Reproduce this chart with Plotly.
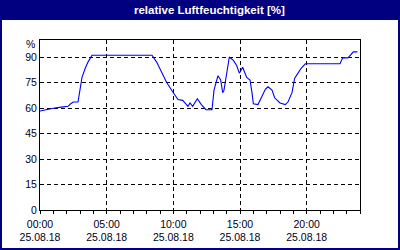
import plotly.graph_objects as go

times = ["00:00", "00:30", "01:06", "01:36", "02:06", "02:18", "02:30", "02:51", "03:00", "03:09",
         "03:24", "03:36", "03:54", "08:24", "08:45", "09:06", "09:30", "10:00", "10:21", "10:42",
         "11:06", "11:15", "11:27", "11:48", "12:06", "12:27", "12:54", "13:03", "13:12", "13:21",
         "13:33", "13:42", "13:48", "14:00", "14:12", "14:30", "14:45", "14:57", "15:12", "15:30",
         "15:45", "15:54", "16:00", "16:21", "16:36", "16:54", "17:06", "17:24", "17:36", "17:45",
         "18:00", "18:24", "18:36", "18:54", "19:06", "19:21", "19:36", "19:54", "22:30", "22:42",
         "23:06", "23:30", "23:48"]
humidity = [58.2, 59.2, 60, 60.5, 61, 62.5, 63.5, 63.5, 70, 78,
            83.5, 87, 91, 91, 87, 81, 75, 69, 65, 64.5,
            61, 63, 61, 65.5, 62, 59, 59, 70.5, 75, 79,
            76.5, 69, 70.5, 80.5, 90, 88, 85, 80.5, 84, 78,
            76.5, 69, 62.5, 62, 66, 71, 72.5, 70.5, 66, 65,
            63, 62, 63.5, 69, 77.5, 80.5, 83.5, 86, 86, 89.5,
            89.5, 93, 93]
date = "2018-08-25"
title_text = "relative Luftfeuchtigkeit [%]"
y_ticks = [0, 15, 30, 45, 60, 75, 90]

x = [f"{date} {t}" for t in times]

navy = "#000080"
font_family = "Liberation Sans, Arial, sans-serif"

fig = go.Figure(go.Scatter(x=x, y=humidity, mode="lines",
                           line=dict(color="#0000FF", width=1.1), hoverinfo="skip"))

W, H = 400, 250
L, R, T, B = 40, 40, 40, 40
pw, ph = W - L - R, H - T - B

def px_x(p):
    return (p - L) / pw

def px_y(p):
    return (H - B - p) / ph

fig.update_layout(
    width=W, height=H,
    margin=dict(l=L, r=R, t=T, b=B, pad=0, autoexpand=False),
    paper_bgcolor="white", plot_bgcolor="white",
    showlegend=False,
    font=dict(family=font_family, size=10.5, color="#000020"),
    xaxis=dict(
        range=[f"{date} 00:00", "2018-08-26 00:00"],
        tick0=f"{date} 00:00", dtick=5 * 3600000,
        tickformat="%H:%M<br>%d.%m.%y",
        showgrid=True, gridcolor="black", gridwidth=1, griddash="4px,3px",
        showline=True, linecolor="black", linewidth=1, mirror=True,
        ticks="outside", ticklen=3, tickcolor="black", ticklabelstandoff=1,
        minor=dict(dtick=3600000, ticks="outside", ticklen=3, tickcolor="black", showgrid=False),
        zeroline=False, fixedrange=True, automargin=False,
    ),
    yaxis=dict(
        range=[0, 100], tickvals=y_ticks,
        showgrid=True, gridcolor="black", gridwidth=1, griddash="4px,3px",
        showline=True, linecolor="black", linewidth=1, mirror=True,
        ticks="", zeroline=False, fixedrange=True, automargin=False,
    ),
    shapes=[
        dict(type="rect", xref="paper", yref="paper",
             x0=px_x(0), x1=px_x(W), y0=px_y(20), y1=px_y(0),
             fillcolor=navy, line=dict(width=0), layer="above"),
        dict(type="rect", xref="paper", yref="paper",
             x0=px_x(1), x1=px_x(W - 1), y0=px_y(H - 1), y1=px_y(1),
             fillcolor="rgba(0,0,0,0)", line=dict(color=navy, width=2), layer="above"),
    ],
    annotations=[
        dict(text=f"<b>{title_text}</b>", xref="paper", yref="paper",
             x=px_x(209), y=px_y(10), xanchor="center", yanchor="middle",
             showarrow=False, font=dict(color="white", size=11.5, family=font_family)),
        dict(text="%", xref="paper", yref="paper",
             x=px_x(37), y=px_y(44), xanchor="right", yanchor="middle",
             showarrow=False, font=dict(size=10.5, family=font_family)),
    ],
)

fig.write_html("out.html")
